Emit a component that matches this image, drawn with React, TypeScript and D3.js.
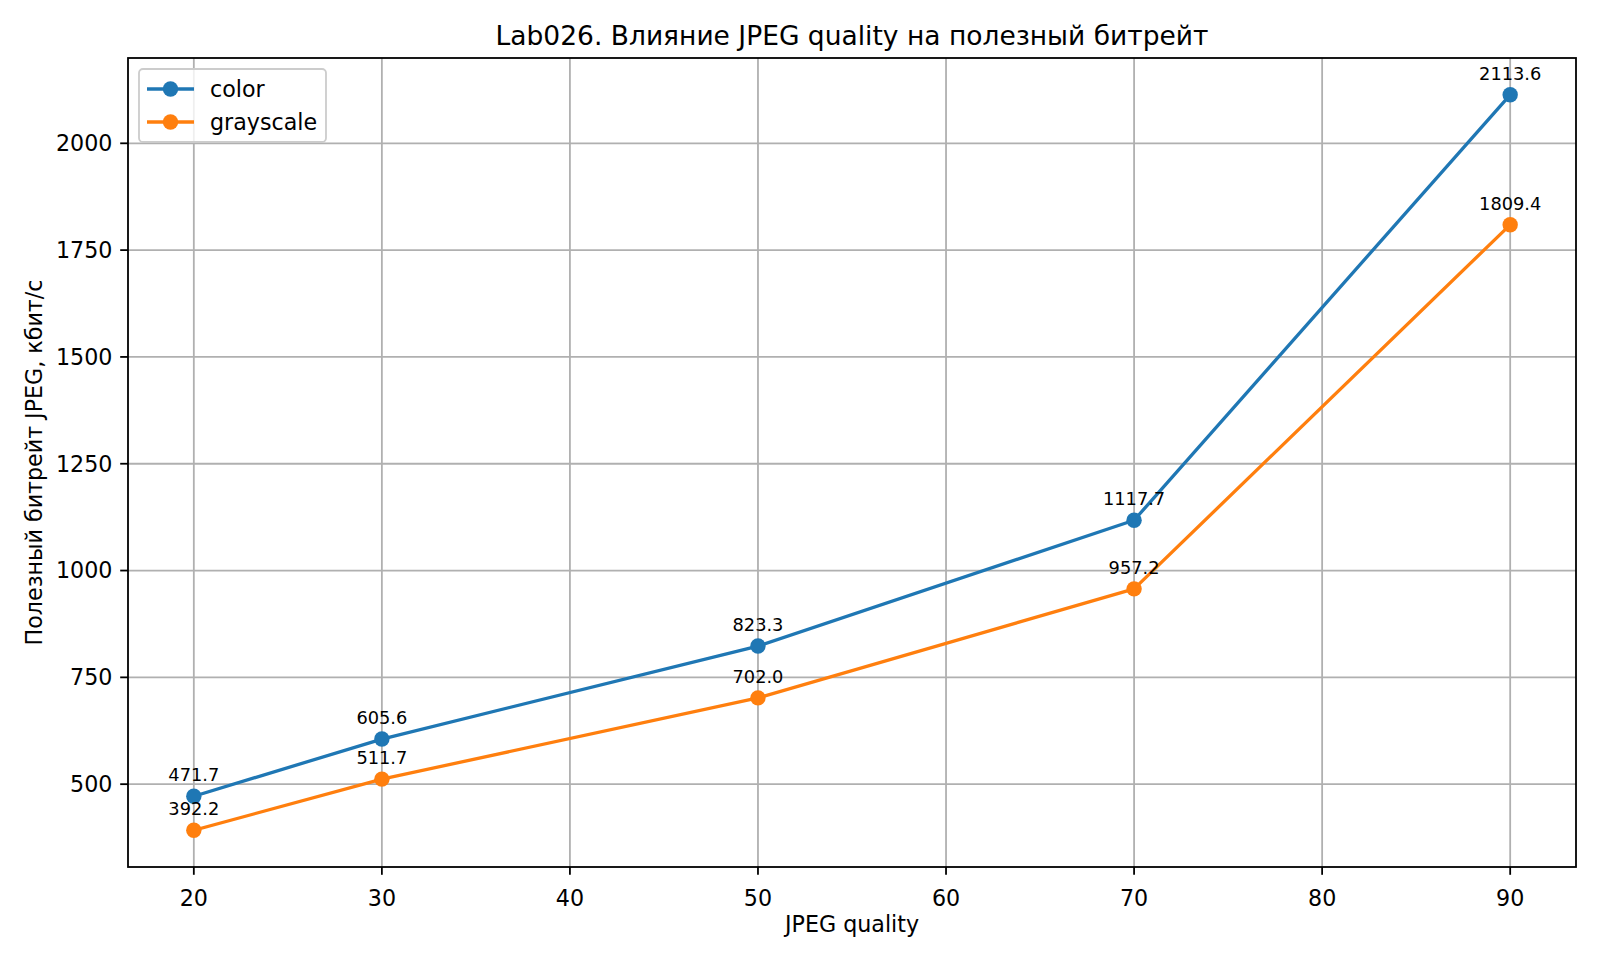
import * as d3 from "d3";

const qualities = [20, 30, 50, 70, 90];
const colorBitrate = [471.7, 605.6, 823.3, 1117.7, 2113.6];
const grayBitrate = [392.2, 511.7, 702.0, 957.2, 1809.4];
const xTicks = [20, 30, 40, 50, 60, 70, 80, 90];
const yTicks = [500, 750, 1000, 1250, 1500, 1750, 2000];

const series = [
  { name: "color", values: colorBitrate, color: "#1f77b4" },
  { name: "grayscale", values: grayBitrate, color: "#ff7f0e" },
];

const W = 1600;
const H = 960;
const margin = { left: 128, right: 24, top: 58, bottom: 93 };
const font = "'DejaVu Sans', sans-serif";

export default function App() {
  const innerW = W - margin.left - margin.right;
  const innerH = H - margin.top - margin.bottom;

  // matplotlib-style 5% margins around the data
  const xExt = d3.extent(qualities) as [number, number];
  const xPad = (xExt[1] - xExt[0]) * 0.05;
  const allY = [...colorBitrate, ...grayBitrate];
  const yExt = d3.extent(allY) as [number, number];
  const yPad = (yExt[1] - yExt[0]) * 0.05;

  const x = d3
    .scaleLinear()
    .domain([xExt[0] - xPad, xExt[1] + xPad])
    .range([0, innerW]);
  const y = d3
    .scaleLinear()
    .domain([yExt[0] - yPad, yExt[1] + yPad])
    .range([innerH, 0]);

  const line = d3
    .line<number>()
    .x((_, i) => x(qualities[i]))
    .y((d) => y(d));

  return (
    <svg
      width={W}
      height={H}
      style={{ position: "absolute", left: 0, top: 0, background: "#fff" }}
      fontFamily={font}
    >
      <rect width={W} height={H} fill="#fff" />
      <text
        x={margin.left + innerW / 2}
        y={margin.top - 13}
        textAnchor="middle"
        fontSize={26.5}
        fill="#000"
      >
        Lab026. Влияние JPEG quality на полезный битрейт
      </text>

      <g transform={`translate(${margin.left},${margin.top})`}>
        {/* grid */}
        {xTicks.map((t) => (
          <line
            key={"gx" + t}
            x1={x(t)}
            x2={x(t)}
            y1={0}
            y2={innerH}
            stroke="#b0b0b0"
            strokeWidth={1.8}
          />
        ))}
        {yTicks.map((t) => (
          <line
            key={"gy" + t}
            x1={0}
            x2={innerW}
            y1={y(t)}
            y2={y(t)}
            stroke="#b0b0b0"
            strokeWidth={1.8}
          />
        ))}

        {/* lines + markers */}
        {series.map((s) => (
          <g key={s.name}>
            <path
              d={line(s.values) || ""}
              fill="none"
              stroke={s.color}
              strokeWidth={3.3}
              strokeLinejoin="round"
              strokeLinecap="square"
            />
            {s.values.map((v, i) => (
              <circle
                key={i}
                cx={x(qualities[i])}
                cy={y(v)}
                r={7.7}
                fill={s.color}
              />
            ))}
          </g>
        ))}

        {/* value labels */}
        {series.map((s) =>
          s.values.map((v, i) => (
            <text
              key={s.name + "l" + i}
              x={x(qualities[i])}
              y={y(v) - 15}
              textAnchor="middle"
              fontSize={17.8}
              fill="#000"
            >
              {v.toFixed(1)}
            </text>
          ))
        )}

        {/* axes frame */}
        <rect
          x={0}
          y={0}
          width={innerW}
          height={innerH}
          fill="none"
          stroke="#000"
          strokeWidth={1.8}
        />

        {/* x ticks */}
        {xTicks.map((t) => (
          <g key={"xt" + t} transform={`translate(${x(t)},${innerH})`}>
            <line y1={0} y2={7.8} stroke="#000" strokeWidth={1.8} />
            <text y={39} textAnchor="middle" fontSize={22.2} fill="#000">
              {t}
            </text>
          </g>
        ))}

        {/* y ticks */}
        {yTicks.map((t) => (
          <g key={"yt" + t} transform={`translate(0,${y(t)})`}>
            <line x1={0} x2={-7.8} stroke="#000" strokeWidth={1.8} />
            <text
              x={-15.6}
              dy="0.35em"
              textAnchor="end"
              fontSize={22.2}
              fill="#000"
            >
              {t}
            </text>
          </g>
        ))}

        {/* legend */}
        <g transform="translate(11,11)">
          <rect
            x={0}
            y={0}
            width={187}
            height={73}
            rx={4}
            fill="#fff"
            fillOpacity={0.8}
            stroke="#cccccc"
            strokeWidth={1.8}
          />
          {series.map((s, i) => (
            <g key={"lg" + s.name} transform={`translate(0,${20 + i * 33})`}>
              <line
                x1={8}
                x2={55}
                y1={0}
                y2={0}
                stroke={s.color}
                strokeWidth={3.3}
              />
              <circle cx={31.5} cy={0} r={7.7} fill={s.color} />
              <text x={71} dy="0.35em" fontSize={22.2} fill="#000">
                {s.name}
              </text>
            </g>
          ))}
        </g>
      </g>

      {/* axis labels */}
      <text
        x={margin.left + innerW / 2}
        y={932}
        textAnchor="middle"
        fontSize={22.2}
        fill="#000"
      >
        JPEG quality
      </text>
      <text
        transform={`translate(42,${margin.top + innerH / 2}) rotate(-90)`}
        textAnchor="middle"
        fontSize={22.2}
        fill="#000"
      >
        Полезный битрейт JPEG, кбит/с
      </text>
    </svg>
  );
}
